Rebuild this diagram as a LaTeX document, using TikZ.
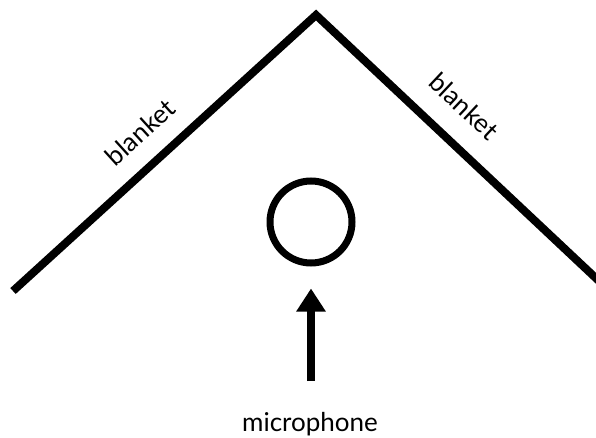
\documentclass[tikz,border=0pt]{standalone}
\usepackage{fontspec}
\setmainfont{Lato}
\usetikzlibrary{arrows.meta}
\begin{document}
\begin{tikzpicture}[x=1pt,y=-1pt,
  wall/.style={line width=8pt, line cap=butt, line join=miter},
  lbl/.style={font=\fontsize{26}{30}\selectfont, inner sep=0pt},
  mic/.style={circle, draw, line width=7pt, minimum size=82pt, inner sep=0pt},
  pointer/.style={line width=8pt, -{Triangle[width=28pt,length=23pt]}}]
\useasboundingbox (0,0) rectangle (596,438);
\coordinate (lend) at (13,291);
\coordinate (apex) at (316,15);
\coordinate (rend) at (600,282);
\draw[wall] (lend) -- (apex) -- (rend);
\node[lbl, rotate=42.3] (bl) at (140,132) {blanket};
\node[lbl, rotate=-43.2] (br) at (464,106) {blanket};
\node[mic] (m) at (311,222) {};
\coordinate (mb) at (311,381);
\draw[pointer] (mb) -- ([yshift=-22pt]m.south);
\node[lbl, anchor=base] (t) at (310,431) {microphone};
\end{tikzpicture}
\end{document}
